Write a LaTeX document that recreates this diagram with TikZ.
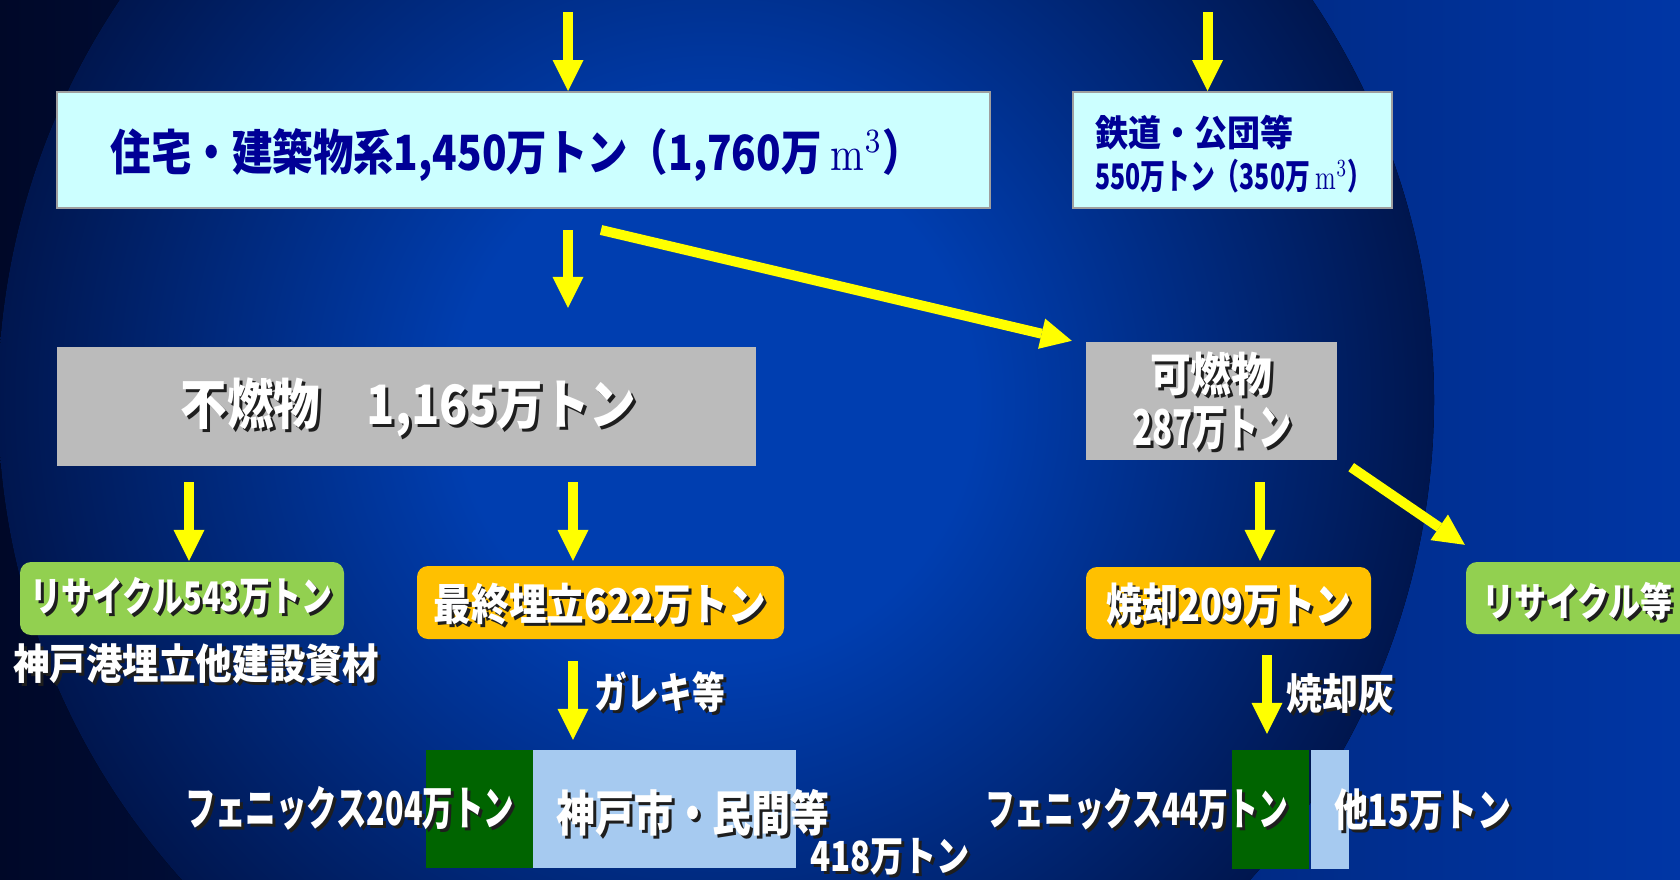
\documentclass[tikz,border=0pt]{standalone}
\usepackage{fontspec}
\usepackage{graphicx}
\newfontfamily\jp{Noto Sans CJK JP}
\usetikzlibrary{arrows.meta}
\definecolor{bgL}{RGB}{0,8,40}
\definecolor{bgR}{RGB}{0,54,165}
\definecolor{cIn}{RGB}{0,62,176}
\definecolor{cOut}{RGB}{0,22,78}
\definecolor{cyanbox}{RGB}{204,255,255}
\definecolor{navytxt}{RGB}{0,0,150}
\definecolor{graybox}{RGB}{187,187,187}
\definecolor{greenbox}{RGB}{146,208,80}
\definecolor{orangebox}{RGB}{255,192,0}
\definecolor{dkgreen}{RGB}{0,100,0}
\definecolor{ltblue}{RGB}{166,202,240}
\definecolor{arrowy}{RGB}{255,255,0}
\definecolor{shad}{RGB}{30,30,30}
\pgfdeclareradialshading{circshade}{\pgfpoint{0bp}{0bp}}{color(0bp)=(cIn); color(9bp)=(cIn); color(25bp)=(cOut); color(50bp)=(cOut)}
\newcommand{\fx}[3]{\resizebox*{#1pt}{#2pt}{#3}}
\newcommand{\sx}[3]{\rlap{\smash{\kern3pt\raisebox{-3pt}{\textcolor{shad}{\resizebox*{#1pt}{#2pt}{#3}}}}}\resizebox*{#1pt}{#2pt}{#3}}
\newcommand{\mcube}{{\normalfont\mdseries m\textsuperscript{3}}}
\begin{document}
\begin{tikzpicture}[x=1pt,y=-1pt,
  ya/.style={draw=arrowy, line width=10pt, -{Triangle[length=31pt,width=31pt,line width=0pt]}},
  cyanbx/.style={rectangle, fill=cyanbox, draw=gray!75, line width=2pt, inner sep=0pt},
  graybx/.style={rectangle, fill=graybox, inner sep=0pt},
  greenbx/.style={rectangle, rounded corners=11pt, fill=greenbox, inner sep=0pt},
  orangebx/.style={rectangle, rounded corners=11pt, fill=orangebox, inner sep=0pt},
  barg/.style={rectangle, fill=dkgreen, inner sep=0pt},
  barb/.style={rectangle, fill=ltblue, inner sep=0pt},
  wt/.style={text=white, font=\jp\bfseries, inner sep=0pt, anchor=center},
  bt/.style={text=navytxt, font=\jp\bfseries, inner sep=0pt}]
\useasboundingbox (0,0) rectangle (1680,879);
\begin{scope}
\clip (0,0) rectangle (1680,879);
\fill[left color=bgL, right color=bgR] (0,0) rectangle (1680,879);
\fill[shading=circshade] (716,400) circle[radius=718];

% boxes
\node[cyanbx, minimum width=933pt, minimum height=116pt] (A) at (523.5,150) {};
\node[cyanbx, minimum width=319pt, minimum height=116pt] (B) at (1232.5,150) {};
\node[graybx, minimum width=699pt, minimum height=119pt] (C) at (406.5,406.5) {};
\node[graybx, minimum width=251pt, minimum height=118pt] (D) at (1211.5,401) {};
\node[greenbx, minimum width=324pt, minimum height=73pt] (E) at (182,598.5) {};
\node[orangebx, minimum width=367pt, minimum height=73pt] (F) at (600.5,602.5) {};
\node[orangebx, minimum width=285pt, minimum height=72pt] (G) at (1228.5,603) {};
\node[greenbx, minimum width=254pt, minimum height=72pt] (H) at (1593,598) {};
\node[barg, minimum width=107pt, minimum height=118pt] (P1) at (479.5,809) {};
\node[barb, minimum width=263pt, minimum height=118pt] (K1) at (664.5,809) {};
\node[barg, minimum width=77pt, minimum height=119pt] (P2) at (1270.5,809.5) {};
\node[barb, minimum width=38pt, minimum height=119pt] (K2) at (1330,809.5) {};

% texts
\node[bt] (tA) at (517,155) {\fx{812}{53}{住宅・建築物系1,450万トン（1,760万 \mcube）}};
\node[bt, anchor=west] (tB1) at (1095,132.5) {\fx{198}{35}{鉄道・公団等}};
\node[bt, anchor=west] (tB2) at (1095,176) {\fx{277}{34}{550万トン（350万 \mcube）}};
\node[wt] (tC) at (408.5,407.5) {\sx{455}{59}{不燃物　1,165万トン}};
\node[wt] (tD1) at (1211,373.5) {\sx{122}{44}{可燃物}};
\node[wt] (tD2) at (1212,428.5) {\sx{160}{44}{287万トン}};
\node[wt] (tE) at (181.5,596) {\sx{301}{38}{リサイクル543万トン}};
\node[wt] (tF) at (600,604.5) {\sx{332}{42}{最終埋立622万トン}};
\node[wt] (tE2) at (196,663.5) {\sx{366}{40}{神戸港埋立他建設資材}};
\node[wt] (tGa) at (659.5,692) {\sx{131}{41}{ガレキ等}};
\node[wt] (tP1) at (349.5,808.5) {\sx{329}{44}{フェニックス204万トン}};
\node[wt] (tK1) at (692.5,812.5) {\sx{273}{47}{神戸市・民間等}};
\node[wt] (t418) at (890,857) {\sx{160}{37}{418万トン}};
\node[wt] (tG) at (1229,604) {\sx{246}{43}{焼却209万トン}};
\node[wt] (tH) at (1577.5,601) {\sx{191}{38}{リサイクル等}};
\node[wt] (tAsh) at (1340,693.5) {\sx{108}{40}{焼却灰}};
\node[wt] (tP2) at (1136.5,809.5) {\sx{303}{42}{フェニックス44万トン}};
\node[wt] (tO2) at (1422.5,809.5) {\sx{177}{42}{他15万トン}};

% arrows
\coordinate (s1) at (568,12);
\coordinate (s2) at (1207.5,12);
\draw[ya] (s1) -- ([xshift=44.5pt]A.north);
\draw[ya] (s2) -- ([xshift=-25pt]B.north);
\draw[ya] ([xshift=44.5pt,yshift=-21pt]A.south) -- ([xshift=161.5pt,yshift=39pt]C.north);
\draw[ya] ([xshift=77.5pt,yshift=-21pt]A.south) -- ([xshift=-14pt,yshift=1pt]D.north west);
\draw[ya] ([xshift=-217.5pt,yshift=-16pt]C.south) -- ([xshift=7pt,yshift=1pt]E.north);
\draw[ya] ([xshift=166.5pt,yshift=-16pt]C.south) -- ([xshift=-27.5pt,yshift=5pt]F.north);
\draw[ya] ([xshift=48.5pt,yshift=-22pt]D.south) -- ([xshift=31.5pt,yshift=6pt]G.north);
\draw[ya] ([xshift=14pt,yshift=-7pt]D.south east) -- ([xshift=-1pt,yshift=17pt]H.north west);
\draw[ya] ([xshift=-27.5pt,yshift=-22pt]F.south) -- ([xshift=-91.5pt,yshift=10pt]K1.north);
\draw[ya] ([xshift=38.5pt,yshift=-16pt]G.south) -- ([xshift=-3.5pt,yshift=16pt]P2.north);
\end{scope}
\end{tikzpicture}
\end{document}
